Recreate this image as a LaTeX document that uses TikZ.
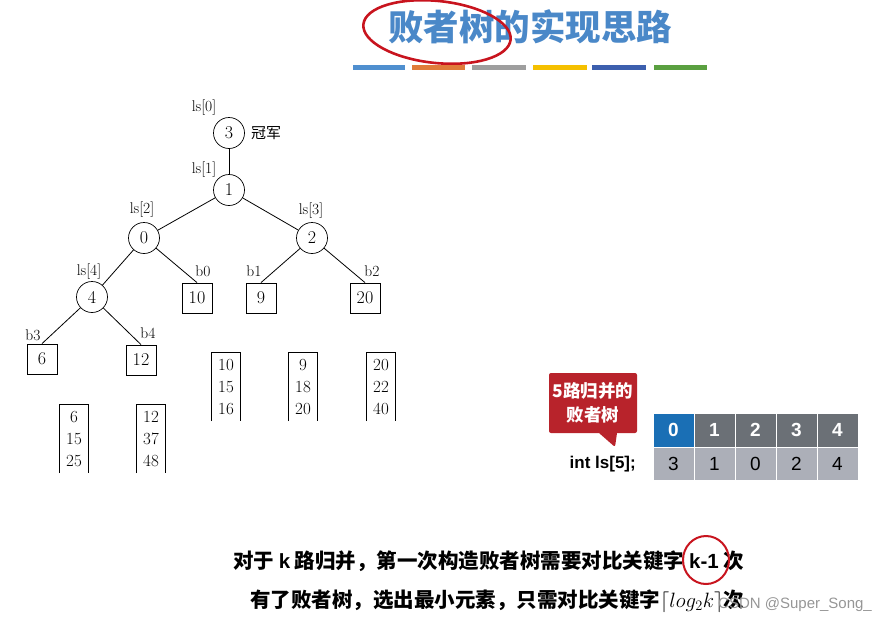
\documentclass[tikz,border=0pt]{standalone}
\usepackage{fontspec}
\newfontfamily\cjk{Noto Sans CJK SC}
\newfontfamily\lsans{Liberation Sans}
\usetikzlibrary{shapes.geometric,shapes.callouts}
\definecolor{titleblue}{RGB}{74,136,200}
\definecolor{penred}{RGB}{200,20,30}
\definecolor{barA}{RGB}{79,143,207}
\definecolor{barB}{RGB}{224,123,57}
\definecolor{barC}{RGB}{158,158,158}
\definecolor{barD}{RGB}{245,192,0}
\definecolor{barE}{RGB}{60,95,174}
\definecolor{barF}{RGB}{90,160,64}
\definecolor{calred}{RGB}{184,35,43}
\definecolor{hdblue}{RGB}{26,111,181}
\definecolor{hdgray}{RGB}{107,112,118}
\definecolor{rowgray}{RGB}{172,175,184}
\definecolor{wm}{RGB}{150,150,150}
\tikzset{
  tnode/.style={circle,draw,line width=0.7pt,minimum size=31pt,inner sep=0pt,font=\fontsize{18}{18}\selectfont},
  leaf/.style={rectangle,draw,line width=0.8pt,minimum width=30pt,minimum height=30pt,inner sep=0pt,font=\fontsize{18}{18}\selectfont},
  lbl/.style={font=\fontsize{15.5}{15.5}\selectfont,inner sep=0pt},
  col/.style={align=center,minimum width=29pt,minimum height=68pt,inner sep=0pt,font=\fontsize{17}{22}\selectfont},
  edge/.style={line width=0.8pt},
  bar/.style={line width=5pt},
  hcell/.style={rectangle,draw=white,line width=0.8pt,minimum width=41pt,minimum height=34pt,inner sep=0pt,text=white,font=\lsans\bfseries\fontsize{19}{19}\selectfont},
  rcell/.style={rectangle,draw=white,line width=0.8pt,fill=rowgray,minimum width=41pt,minimum height=33pt,inner sep=0pt,font=\lsans\fontsize{19}{19}\selectfont},
  btext/.style={anchor=west,inner sep=0pt,font=\cjk\bfseries\fontsize{20.5}{20.5}\selectfont}
}
\begin{document}
\begin{tikzpicture}[x=1pt,y=-1pt]
\useasboundingbox (0,0) rectangle (888,624);
% title
\node[font=\cjk\bfseries\fontsize{35.5}{35.5}\selectfont,text=titleblue,inner sep=0pt] (title) at (530,27) {败者树的实现思路};
\draw[penred,line width=2.6pt,rotate around={-6:(437,32)}] (437,32) ellipse [x radius=74pt,y radius=31pt];
\draw[bar,barA] (353,67) -- (405,67);
\draw[bar,barB] (412,67) -- (465,67);
\draw[bar,barC] (472,67) -- (526,67);
\draw[bar,barD] (533,67) -- (587,67);
\draw[bar,barE] (592,67) -- (646,67);
\draw[bar,barF] (654,67) -- (707,67);
% tree
\node[tnode] (t0) at (229,133) {3};
\node[tnode] (t1) at (229,190) {1};
\node[tnode] (t2) at (144,238) {0};
\node[tnode] (t3) at (312,238) {2};
\node[tnode] (t4) at (92,297) {4};
\node[leaf] (b0) at (197,298) {10};
\node[leaf] (b1) at (261,298) {9};
\node[leaf] (b2) at (365,298) {20};
\node[leaf] (b3) at (42,359) {6};
\node[leaf] (b4) at (141,360) {12};
\node[lbl] (l0) at (204,108) {ls[0]};
\node[lbl] (l1) at (204,170) {ls[1]};
\node[lbl] (l2) at (142,210) {ls[2]};
\node[lbl] (l3) at (311,211) {ls[3]};
\node[lbl] (l4) at (89,272) {ls[4]};
\node[lbl] (lb0) at (203,271) {b0};
\node[lbl] (lb1) at (254,271) {b1};
\node[lbl] (lb2) at (372,271) {b2};
\node[lbl] (lb3) at (33,335) {b3};
\node[lbl] (lb4) at (148,333) {b4};
\node[font=\cjk\fontsize{15}{15}\selectfont,inner sep=0pt] (champ) at (266,133) {冠军};
\draw[edge] (t0) -- (t1);
\draw[edge] (t1) -- (t2);
\draw[edge] (t1) -- (t3);
\draw[edge] (t2) -- (t4);
\draw[edge] (t2) -- (b0.north);
\draw[edge] (t3) -- (b1.north);
\draw[edge] (t3) -- (b2.north);
\draw[edge] (t4) -- (b3.north);
\draw[edge] (t4) -- (b4.north);
% columns
\node[col] (c0) at (74,439) {6\\15\\25};
\node[col] (c1) at (151,439) {12\\37\\48};
\node[col] (c2) at (226,387) {10\\15\\16};
\node[col] (c3) at (303,387) {9\\18\\20};
\node[col] (c4) at (381,387) {20\\22\\40};
\foreach \c in {c0,c1,c2,c3,c4}{
  \draw[line width=0.9pt] (\c.south west) |- (\c.north east) -- (\c.south east);
}
% callout
\node[rectangle callout,fill=calred,rounded corners=2pt,callout absolute pointer={(615,447)},callout pointer width=18pt,minimum width=88pt,minimum height=60pt,inner sep=0pt,align=center,text=white,font=\cjk\bfseries\fontsize{17.5}{24}\selectfont] (call) at (593,403) {5路归并的\\败者树};
\node[anchor=east,inner sep=0pt,font=\lsans\bfseries\fontsize{17}{17}\selectfont] (intls) at (636,464) {int ls[5];};
% table
\node[hcell,fill=hdblue] (h0) at (673.5,430) {0};
\node[hcell,fill=hdgray] (h1) at (714.5,430) {1};
\node[hcell,fill=hdgray] (h2) at (755.5,430) {2};
\node[hcell,fill=hdgray] (h3) at (796.5,430) {3};
\node[hcell,fill=hdgray] (h4) at (837.5,430) {4};
\node[rcell] (r0) at (673.5,463.5) {3};
\node[rcell] (r1) at (714.5,463.5) {1};
\node[rcell] (r2) at (755.5,463.5) {0};
\node[rcell] (r3) at (796.5,463.5) {2};
\node[rcell] (r4) at (837.5,463.5) {4};
% bottom text
\node[btext] (line1) at (233,561) {对于 {\lsans k} 路归并，第一次构造败者树需要对比关键字 {\lsans k-1} 次};
\node[btext] (line2) at (250,601) {有了败者树，选出最小元素，只需对比关键字{\mdseries$\lceil log_2k\rceil$}次};
\draw[penred,line width=2pt] (706,560) ellipse [x radius=23pt,y radius=24pt];
\node[anchor=west,inner sep=0pt,text=wm,font=\lsans\fontsize{15}{15}\selectfont] (wmk) at (718,605) {CSDN @Super\_Song\_};
\end{tikzpicture}
\end{document}
